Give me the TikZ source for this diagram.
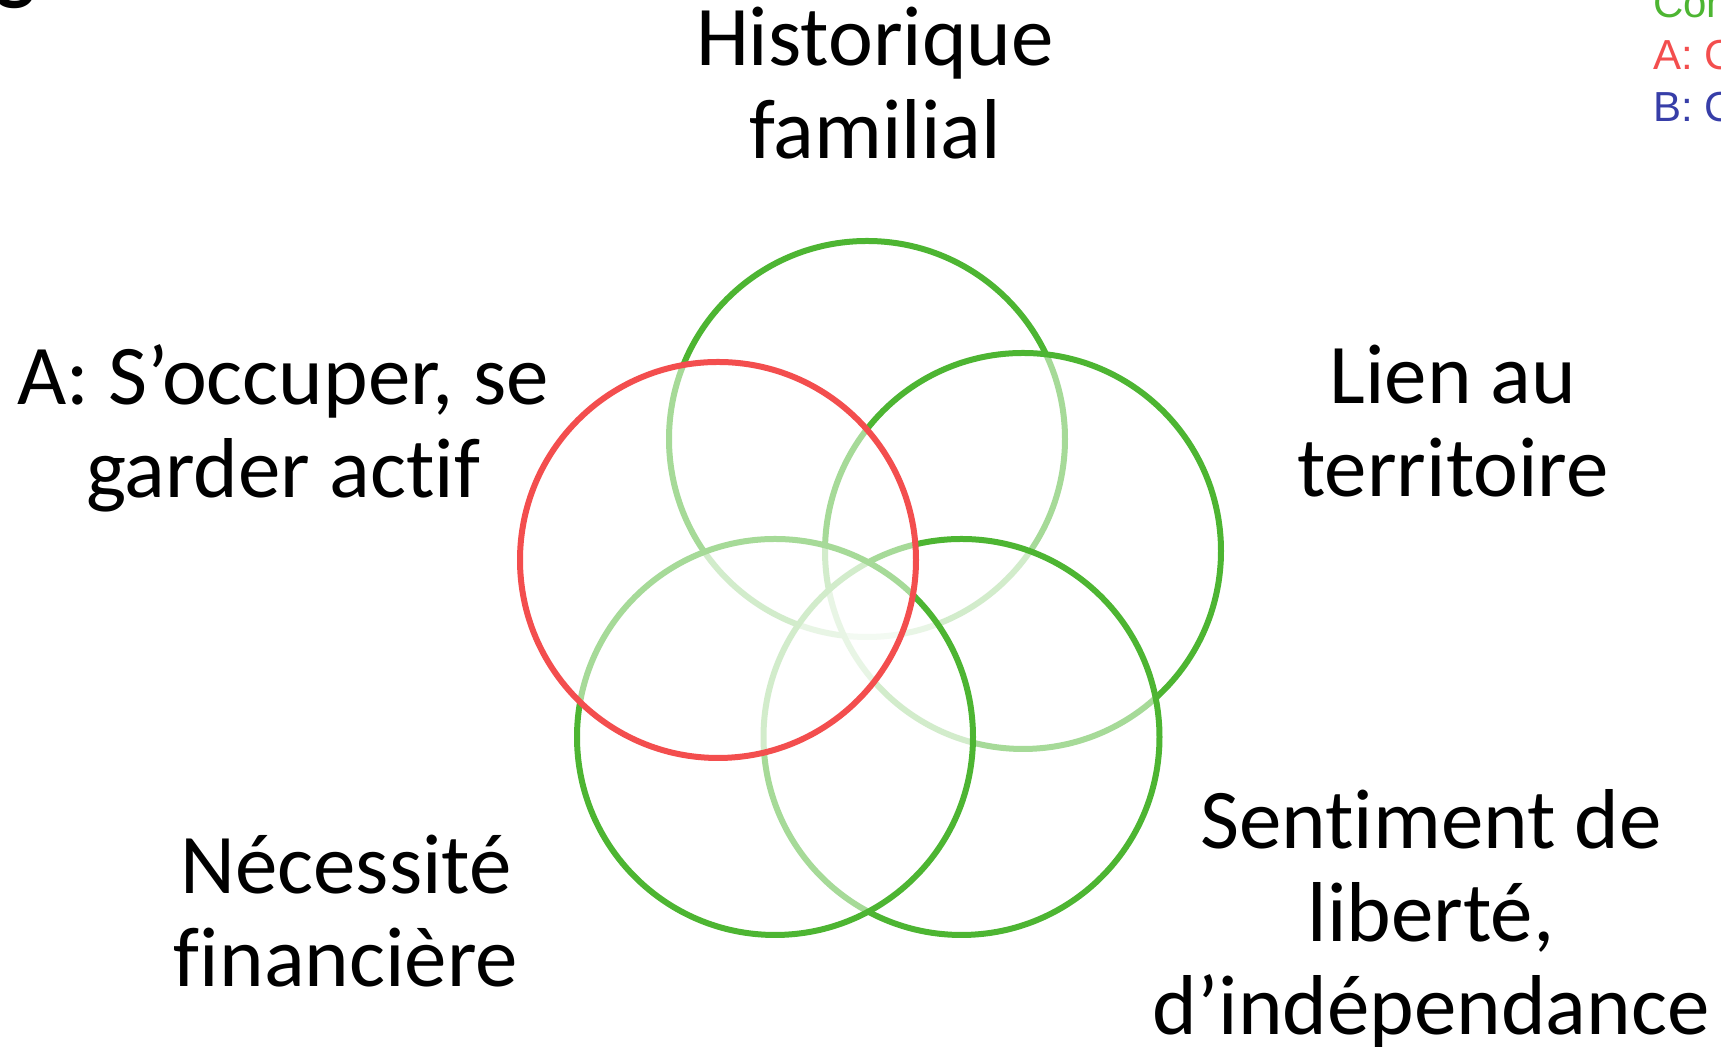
\documentclass[tikz,border=0pt]{standalone}
\usepackage{fontspec}
\setmainfont[Ligatures=NoCommon]{Carlito}
\newfontfamily\legfont{Liberation Sans}
\usetikzlibrary{calc,positioning}

\definecolor{ringgreen}{RGB}{77,181,50}
\definecolor{ringred}{RGB}{243,78,78}
\definecolor{legblue}{RGB}{55,62,168}

\begin{document}
\begin{tikzpicture}[%
      x=0.5pt, y=0.5pt,            % one unit is one pixel of the page
      ]
  \tikzset{
    ring/.style={draw=ringgreen, circle, line width=3pt, minimum size=198pt,
                 inner sep=0pt, fill=white, fill opacity=0.5, draw opacity=1},
    redring/.style={ring, draw=ringred},
    lab/.style={align=center, anchor=base, font={\fontsize{42.5}{46.5}\selectfont}},
    leg/.style={align=left, anchor=base west, font={\legfont\fontsize{21}{26}\selectfont}},
  }

  \useasboundingbox (0,0) rectangle (1721,1047);
  \clip (0,0) rectangle (1721,1047);

  % Rings, drawn clockwise from the top
  \node [ring]    (hc) at (867,608)   {};
  \node [ring]    (lc) at (1023,496)  {};
  \node [ring]    (sc) at (961.5,310) {};
  \node [ring]    (nc) at (775,310)   {};
  \node [redring] (ac) at (718,487)   {};

  % Labels (placed at the baseline of their last line)
  \node [lab] (hl) at (875,888)  {Historique\\familial};
  \node [lab] (ll) at (1453,550) {Lien au\\territoire};
  \node [lab] (sl) at (1431,12)  {Sentiment de\\liberté,\\d’indépendance};
  \node [lab] (nl) at (346,60)   {Nécessité\\financière};
  \node [lab] (al) at (283,549)  {A: S’occuper, se\\garder actif};

  % Legend, cut by the page edge
  \node [leg] (lg) at (1646,925) {{\color{ringgreen}Con}\\{\color{ringred}A: C}\\{\color{legblue}B: C}};
  \node [anchor=base west, font={\bfseries\fontsize{42}{46}\selectfont}] (fr) at (-12,1052) {g};
\end{tikzpicture}
\end{document}
